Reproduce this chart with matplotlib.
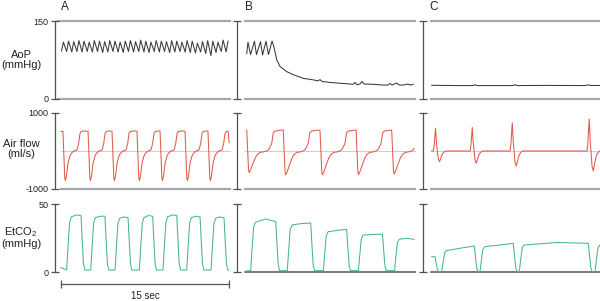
import numpy as np
import matplotlib.pyplot as plt

plt.rcParams['font.family'] = ['Liberation Sans', 'DejaVu Sans']
plt.rcParams['mathtext.fontset'] = 'custom'
plt.rcParams['mathtext.rm'] = 'Liberation Sans'

# time in seconds, measured from each panel's left axis line

# ---------- AoP (mmHg) ----------
aop_a_peak_t = [0.75, 1.21, 1.67, 2.13, 2.59, 3.05, 3.51, 3.97, 4.43, 4.89, 5.35,
                5.81, 6.27, 6.73, 7.19, 7.65, 8.11, 8.57, 9.03, 9.49, 9.95, 10.41,
                10.87, 11.33, 11.79, 12.25, 12.71, 13.17, 13.63, 14.09, 14.55, 15.01, 15.45]
aop_a_peak = [110, 112, 111, 113, 112, 110, 113, 112, 111, 113, 112,
              110, 112, 113, 111, 114, 112, 110, 113, 112, 111, 113,
              112, 110, 113, 112, 108, 111, 113, 112, 110, 114, 112]
aop_a_trough = [93, 92, 91, 92, 91, 92, 91, 92, 90, 91, 92,
                91, 90, 92, 91, 92, 91, 90, 92, 91, 92, 90,
                91, 92, 91, 90, 89, 91, 88, 84, 90, 92, 91]

aop_b_t = [0.87, 0.98, 1.21, 1.56, 1.74, 2.10, 2.28, 2.59, 2.81, 3.13, 3.24, 3.39,
           3.54, 3.84, 4.13, 4.44, 5.03, 5.92, 6.81, 7.23, 7.41, 7.59, 8.30, 9.20,
           10.09, 10.36, 10.54, 10.71, 10.98, 11.16, 11.34, 12.14, 13.04, 13.48,
           13.66, 13.84, 14.26, 14.46, 14.85, 15.27, 15.45, 15.74]
aop_b = [88, 110, 86, 112, 86, 111, 85, 112, 86, 112, 105, 92,
         76, 63, 58, 53, 47, 40, 37, 35, 37.5, 34, 32, 30.5,
         29, 28.5, 32, 27.5, 29, 34, 29, 28.5, 27, 27,
         30, 27, 31, 27, 27, 29, 27, 28.5]

aop_c_t = [0.78, 3.0, 4.45, 4.64, 4.85, 7.0, 8.0, 8.21, 8.42, 11.0, 14.5, 14.73, 14.95, 15.8]
aop_c = [26.5, 26, 26, 27.5, 26, 26, 26, 27.5, 26, 26.3, 26, 27.5, 26.2, 26.2]

# ---------- Air flow (ml/s) ----------
flow_a_drops = [0.71, 2.95, 5.09, 7.32, 9.38, 11.61, 13.66]
flow_a_shape_t = [0.00, 0.16, 0.21, 0.30, 0.45, 0.60, 0.75, 0.90, 1.05, 1.22,
                  1.27, 1.40, 1.52, 1.62, 1.80, 1.95]
flow_a_shape = [520, -700, -780, -680, -325, -150, -60, -20, 10, 20,
                50, 200, 460, 510, 520, 530]

flow_b_drops = [0.87, 4.13, 7.41, 10.63, 13.81]
flow_b_min = [-570, -630, -630, -625, -605]
flow_b_shape_t = [0.00, 0.16, 0.22, 0.32, 0.59, 0.75, 0.92, 1.20, 1.49, 1.75,
                  1.84, 1.96, 2.10, 2.23, 2.37, 2.53, 2.90, 3.12]
flow_b_shape = [550, -520, -600, -540, -325, -200, -105, -35, -25, 0,
                10, 40, 120, 200, 480, 525, 540, 550]

flow_c_starts = [0.92, 4.20, 7.77, 14.64]
flow_c_peak = [600, 620, 745, 840]
flow_c_min = [-280, -325, -395, -525]
flow_c_shape_t = [0.00, 0.08, 0.20, 0.30, 0.36, 0.45, 0.56, 0.66, 0.80, 0.95, 1.15]
flow_c_shape = [0, 0.25, 1, 0.25, 0, -0.75, -1, -0.7, -0.3, -0.1, 0]

# ---------- EtCO2 (mmHg) ----------
co2_a_rise = [1.04, 3.19, 5.36, 7.53, 9.64, 11.76, 13.93]
co2_a_fall = [2.32, 4.46, 6.52, 8.72, 10.87, 12.95, 15.09]
co2_a_p0 = [40.5, 40, 39.5, 40, 40.5, 40, 39.5]
co2_a_pm = [42, 41, 40.5, 41.5, 42, 41, 40.5]
co2_a_p1 = [41.5, 41, 40, 41, 41.5, 40.5, 40]

co2_b_rise = [1.22, 4.49, 7.71, 10.84, 14.06]
co2_b_fall = [3.46, 6.58, 9.79, 12.99, None]
co2_b_p0 = [36.5, 34.6, 29.6, 27.2, 24.0]
co2_b_pm = [39.0, 35.6, 30.6, 27.6, 24.8]
co2_b_p1 = [37.0, 36.0, 31.4, 27.8, 24.0]

co2_c_rise = [None, 1.67, 5.09, 8.60, 15.36]
co2_c_fall = [1.07, 4.58, 8.06, 14.76, None]
co2_c_p0 = [11.3, 15.7, 18.6, 19.8, 19.8]
co2_c_pm = [11.3, 17.5, 19.8, 21.7, 19.8]
co2_c_p1 = [11.3, 19.1, 21.1, 21.1, 19.8]


def aop_trace(peak_t, peaks, troughs):
    t, v = [], []
    for pt, p, tr in zip(peak_t, peaks, troughs):
        t += [pt - 0.17, pt]
        v += [tr, p]
    return t, v


def flow_trace(starts, shape_t, shape, pos=None, neg=None, ref_neg=None):
    t, v = [], []
    for i, s in enumerate(starts):
        for st, sv in zip(shape_t, shape):
            if sv < 0 and neg is not None:
                sv = sv * (neg[i] / ref_neg)
            elif sv > 0 and pos is not None:
                sv = sv * pos[i]
            t.append(s + st)
            v.append(sv)
    return t, v


def capno(rises, falls, p0s, pms, p1s, base, start, end):
    t, v = [start[0]], [start[1]]
    for rise, fall, p0, pm, p1 in zip(rises, falls, p0s, pms, p1s):
        if rise is not None:
            t += [rise, rise + 0.12, rise + 0.26, rise + 0.42]
            v += [base, 0.45 * p0, 0.9 * p0, p0]
            top = rise + 0.42
        else:
            top = start[0]
        stop = fall if fall is not None else end[0]
        t += [(top + stop) / 2, stop]
        v += [pm, p1]
        if fall is not None:
            t += [fall + 0.1, fall + 0.22, fall + 0.34]
            v += [0.6 * p1, 0.15 * p1, base]
    t.append(end[0])
    v.append(end[1])
    return t, v


# build traces
aop_a_t, aop_a = aop_trace(aop_a_peak_t, aop_a_peak, aop_a_trough)

fa_t, fa_v = flow_trace(flow_a_drops, flow_a_shape_t, flow_a_shape)
fa = [(a, b) for a, b in zip(fa_t, fa_v) if a <= 15.5]
fa_t = [0.54] + [a for a, b in fa] + [15.55]
fa_v = [510] + [b for a, b in fa] + [220]

fb_t, fb_v = flow_trace(flow_b_drops, flow_b_shape_t, flow_b_shape,
                        neg=flow_b_min, ref_neg=-600)
fb = [(a, b) for a, b in zip(fb_t, fb_v) if a <= 15.78]
fb_t = [a for a, b in fb] + [15.80]
fb_v = [b for a, b in fb] + [70]

fc_t, fc_v = flow_trace(flow_c_starts, flow_c_shape_t, flow_c_shape,
                        pos=flow_c_peak, neg=flow_c_min, ref_neg=-1)
fc_t = [0.78] + fc_t
fc_v = [0] + fc_v

ca_t, ca_v = capno(co2_a_rise, co2_a_fall, co2_a_p0, co2_a_pm, co2_a_p1, 1.5,
                   (0.54, 3.2), (15.54, 1.5))
cb_t, cb_v = capno(co2_b_rise, co2_b_fall, co2_b_p0, co2_b_pm, co2_b_p1, 1.0,
                   (0.80, 0.7), (15.80, 24.0))
cc_t, cc_v = capno(co2_c_rise, co2_c_fall, co2_c_p0, co2_c_pm, co2_c_p1, 0.3,
                   (0.78, 11.3), (15.80, 19.8))

traces = [
    [(aop_a_t, aop_a), (aop_b_t, aop_b), (aop_c_t, aop_c)],
    [(fa_t, fa_v), (fb_t, fb_v), (fc_t, fc_v)],
    [(ca_t, ca_v), (cb_t, cb_v), (cc_t, cc_v)],
]

# ---------- layout (pixels of a 600 x 301 image) ----------
W, H = 600, 301
PX_PER_SEC = 11.2
cols = [(55, 231), (237, 416), (423, 600)]
line_from = [58, 245, 431]
line_to = [230, 415, 600]
rows = [(21.5, 99), (113, 189), (204, 272)]
ylims = [(0, 150), (-1000, 1000), (0, 50)]
ylabels = ['AoP\n(mmHg)', 'Air flow\n(ml/s)', 'EtCO$_\\mathrm{2}$\n(mmHg)']
ylabel_y = [60, 149, 237]
tick_text = [['0', '150'], ['-1000', '1000'], ['0', '50']]
colors = ['#3a3a3a', '#e2594b', '#45b983']
letters = ['A', 'B', 'C']
letter_x = [65, 249, 434]

fig = plt.figure(figsize=(W / 100, H / 100), dpi=100)

for r in range(3):
    top, bot = rows[r]
    for c in range(3):
        left, right = cols[c]
        ax = fig.add_axes([left / W, 1 - bot / H, (right - left) / W, (bot - top) / H])
        ax.set_xlim(0, (right - left) / PX_PER_SEC)
        ax.set_ylim(*ylims[r])
        ax.patch.set_alpha(0)
        for s in ['top', 'right', 'bottom']:
            ax.spines[s].set_visible(False)
        ax.spines['left'].set_color('#505050')
        ax.spines['left'].set_linewidth(0.9)
        ax.set_xticks([])
        ax.set_yticks(list(ylims[r]))
        ax.tick_params(axis='y', direction='inout', length=6, width=0.9,
                       color='#505050', labelsize=6.5, pad=1.5,
                       labelcolor='#222222', labelleft=(c == 0))
        if c == 0:
            ax.set_yticklabels(tick_text[r])

        f0 = (line_from[c] - left) / (right - left)
        f1 = (line_to[c] - left) / (right - left)
        lo, hi = ylims[r]
        if r == 0:
            ax.axhline(hi, f0, f1, color='#a8a8a8', lw=1.6, clip_on=False, zorder=1)
            ax.axhline(lo, f0, f1, color='#a8a8a8', lw=1.6, clip_on=False, zorder=1)
        elif r == 1:
            g0 = f0 if c else (61 - left) / (right - left)
            ax.axhline(lo, g0, f1, color='#a8a8a8', lw=1.6, clip_on=False, zorder=1)
            ax.axhline(0, g0, f1, color='#cccccc', lw=0.7, zorder=1)
        elif c > 0:
            ax.axhline(lo, f0, f1, color='#555555', lw=1.1, clip_on=False, zorder=1)

        tx, ty = traces[r][c]
        ax.plot(tx, ty, color=colors[r], lw=0.75, zorder=3, clip_on=True)

        if r == 2 and c == 0:
            tr = ax.get_xaxis_transform()
            ax.plot([0.54, 15.54], [-0.18, -0.18], color='#555555', lw=0.9,
                    marker='|', ms=6, mew=0.9, transform=tr, clip_on=False)
            ax.text(8.04, -0.355, '15 sec', transform=tr, ha='center', va='center',
                    fontsize=7, color='#222222')

    fig.text(21 / W, 1 - ylabel_y[r] / H, ylabels[r], ha='center', va='center',
             fontsize=8, linespacing=1.05, color='#222222')

for c in range(3):
    fig.text(letter_x[c] / W, 1 - 7 / H, letters[c], ha='center', va='center',
             fontsize=8.5, color='#222222')

fig.savefig('out.png', dpi=100)
